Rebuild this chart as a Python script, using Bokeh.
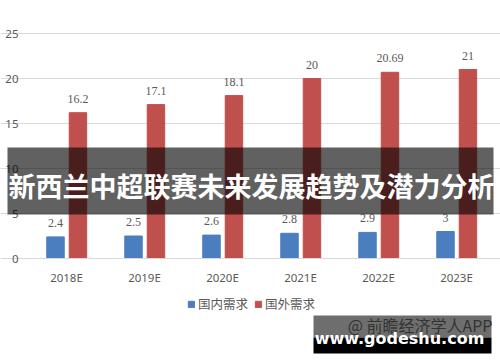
from bokeh.plotting import figure
from bokeh.models import (Range1d, FixedTicker, Label, BoxAnnotation, ColumnDataSource,
                          Legend, LegendItem)
from bokeh.embed import file_html
from bokeh.resources import INLINE

categories = ["2018E", "2019E", "2020E", "2021E", "2022E", "2023E"]
domestic = [2.4, 2.5, 2.6, 2.8, 2.9, 3]
foreign = [16.2, 17.1, 18.1, 20, 20.69, 21]
series_names = ["国内需求", "国外需求"]
y_ticks = [0, 5, 10, 15, 20, 25]
title_text = "新西兰中超联赛未来发展趋势及潜力分析"
site_text = "www.godeshu.com"
source_text = "@ 前瞻经济学人APP"

BLUE = "#4a7ebf"
RED = "#c0504d"
GRAY = "#595959"

W, H = 500, 362
# pixel geometry of the plotting area
PX_L, PX_R, PX_TOP, PX_BOT = 27, 495, 33, 258
n = len(categories)
ux = (PX_R - PX_L) / n          # px per category
uy = (PX_BOT - PX_TOP) / 25.0   # px per value unit

idx = list(range(n))
xd = [i + 0.5 - 0.141 for i in idx]
xf = [i + 0.5 + 0.147 for i in idx]

def fmt(v):
    return "%g" % v

src_d = ColumnDataSource(dict(x=xd, top=domestic, lab=[fmt(v) for v in domestic]))
src_f = ColumnDataSource(dict(x=xf, top=foreign, lab=[fmt(v) for v in foreign]))

p = figure(width=W, height=H, output_backend="svg", toolbar_location=None,
           x_range=Range1d(-PX_L / ux, n + (W - PX_R) / ux),
           y_range=Range1d(-(H - PX_BOT) / uy, 25 + PX_TOP / uy),
           min_border=0, min_border_left=0, min_border_right=0,
           min_border_top=0, min_border_bottom=0,
           background_fill_color="white", border_fill_color="white")
p.outline_line_color = None

rd = p.vbar(x="x", top="top", width=0.224, source=src_d, color=BLUE)
rf = p.vbar(x="x", top="top", width=0.224, source=src_f, color=RED)

for s in (src_d, src_f):
    p.text(x="x", y="top", text="lab", source=s, text_align="center", text_baseline="bottom",
           y_offset=-10, text_font_size="12px", text_color=GRAY, text_font="Noto Sans")

p.xgrid.grid_line_color = None
p.ygrid.grid_line_color = "#d9d9d9"
p.ygrid.ticker = FixedTicker(ticks=y_ticks)
p.ygrid.bounds = (0, n)

p.yaxis.ticker = FixedTicker(ticks=y_ticks)
p.yaxis.fixed_location = 0
p.yaxis.axis_line_color = None
p.yaxis.major_tick_line_color = None
p.yaxis.minor_tick_line_color = None
p.yaxis.major_tick_out = 0
p.yaxis.major_tick_in = 0
p.yaxis.major_label_text_font_size = "11.5px"
p.yaxis.major_label_text_color = GRAY
p.yaxis.major_label_text_font = "Noto Sans"
p.yaxis.major_label_standoff = 9

p.xaxis.ticker = FixedTicker(ticks=[i + 0.5 for i in idx])
p.xaxis.major_label_overrides = {i + 0.5: c for i, c in zip(idx, categories)}
p.xaxis.fixed_location = 0
p.xaxis.bounds = (0, n)
p.xaxis.axis_line_color = "#d9d9d9"
p.xaxis.major_tick_line_color = None
p.xaxis.minor_tick_line_color = None
p.xaxis.major_tick_out = 0
p.xaxis.major_tick_in = 0
p.xaxis.major_label_text_font_size = "11.5px"
p.xaxis.major_label_text_color = GRAY
p.xaxis.major_label_text_font = "Noto Sans"
p.xaxis.major_label_standoff = 11

legend = Legend(items=[LegendItem(label=series_names[0], renderers=[rd]),
                       LegendItem(label=series_names[1], renderers=[rf])],
                orientation="horizontal", location=(187, 49),
                label_text_font_size="12.5px", label_text_color=GRAY,
                label_text_font="Noto Sans CJK SC",
                glyph_width=8, glyph_height=8, spacing=6, label_standoff=3,
                background_fill_alpha=0, border_line_color=None, padding=0, margin=0)
p.add_layout(legend, "center")

# banner overlay
band = BoxAnnotation(left=7, right=493, top=147, bottom=214,
                     left_units="canvas", right_units="canvas", top_units="canvas", bottom_units="canvas",
                     fill_color="black", fill_alpha=0.62, line_color=None, level="overlay")
p.add_layout(band)
p.add_layout(Label(x=251, y=185, x_units="canvas", y_units="canvas", text=title_text,
                   text_align="center", text_baseline="middle", text_font_size="27px",
                   text_font_style="bold", text_color="white", text_font="Noto Sans CJK SC",
                   level="overlay"))

# site watermark
wm1 = BoxAnnotation(left=313, right=491, top=315, bottom=337,
                    left_units="canvas", right_units="canvas", top_units="canvas", bottom_units="canvas",
                    fill_color="#6e6e6e", fill_alpha=1, line_color=None, level="overlay")
wm2 = BoxAnnotation(left=313, right=491, top=337, bottom=353,
                    left_units="canvas", right_units="canvas", top_units="canvas", bottom_units="canvas",
                    fill_color="black", fill_alpha=1, line_color=None, level="overlay")
p.add_layout(wm1)
p.add_layout(wm2)
p.add_layout(Label(x=492, y=324, x_units="canvas", y_units="canvas", text=source_text,
                   text_align="right", text_baseline="middle", text_font_size="16px",
                   text_color="#333333", text_font="Noto Sans CJK SC", level="overlay"))
p.add_layout(Label(x=399, y=338, x_units="canvas", y_units="canvas", text=site_text,
                   text_align="center", text_baseline="middle", text_font_size="16px",
                   text_font_style="bold", text_color="white", text_font="DejaVu Sans",
                   level="overlay"))

open("out.html", "w").write(file_html(p, INLINE))
